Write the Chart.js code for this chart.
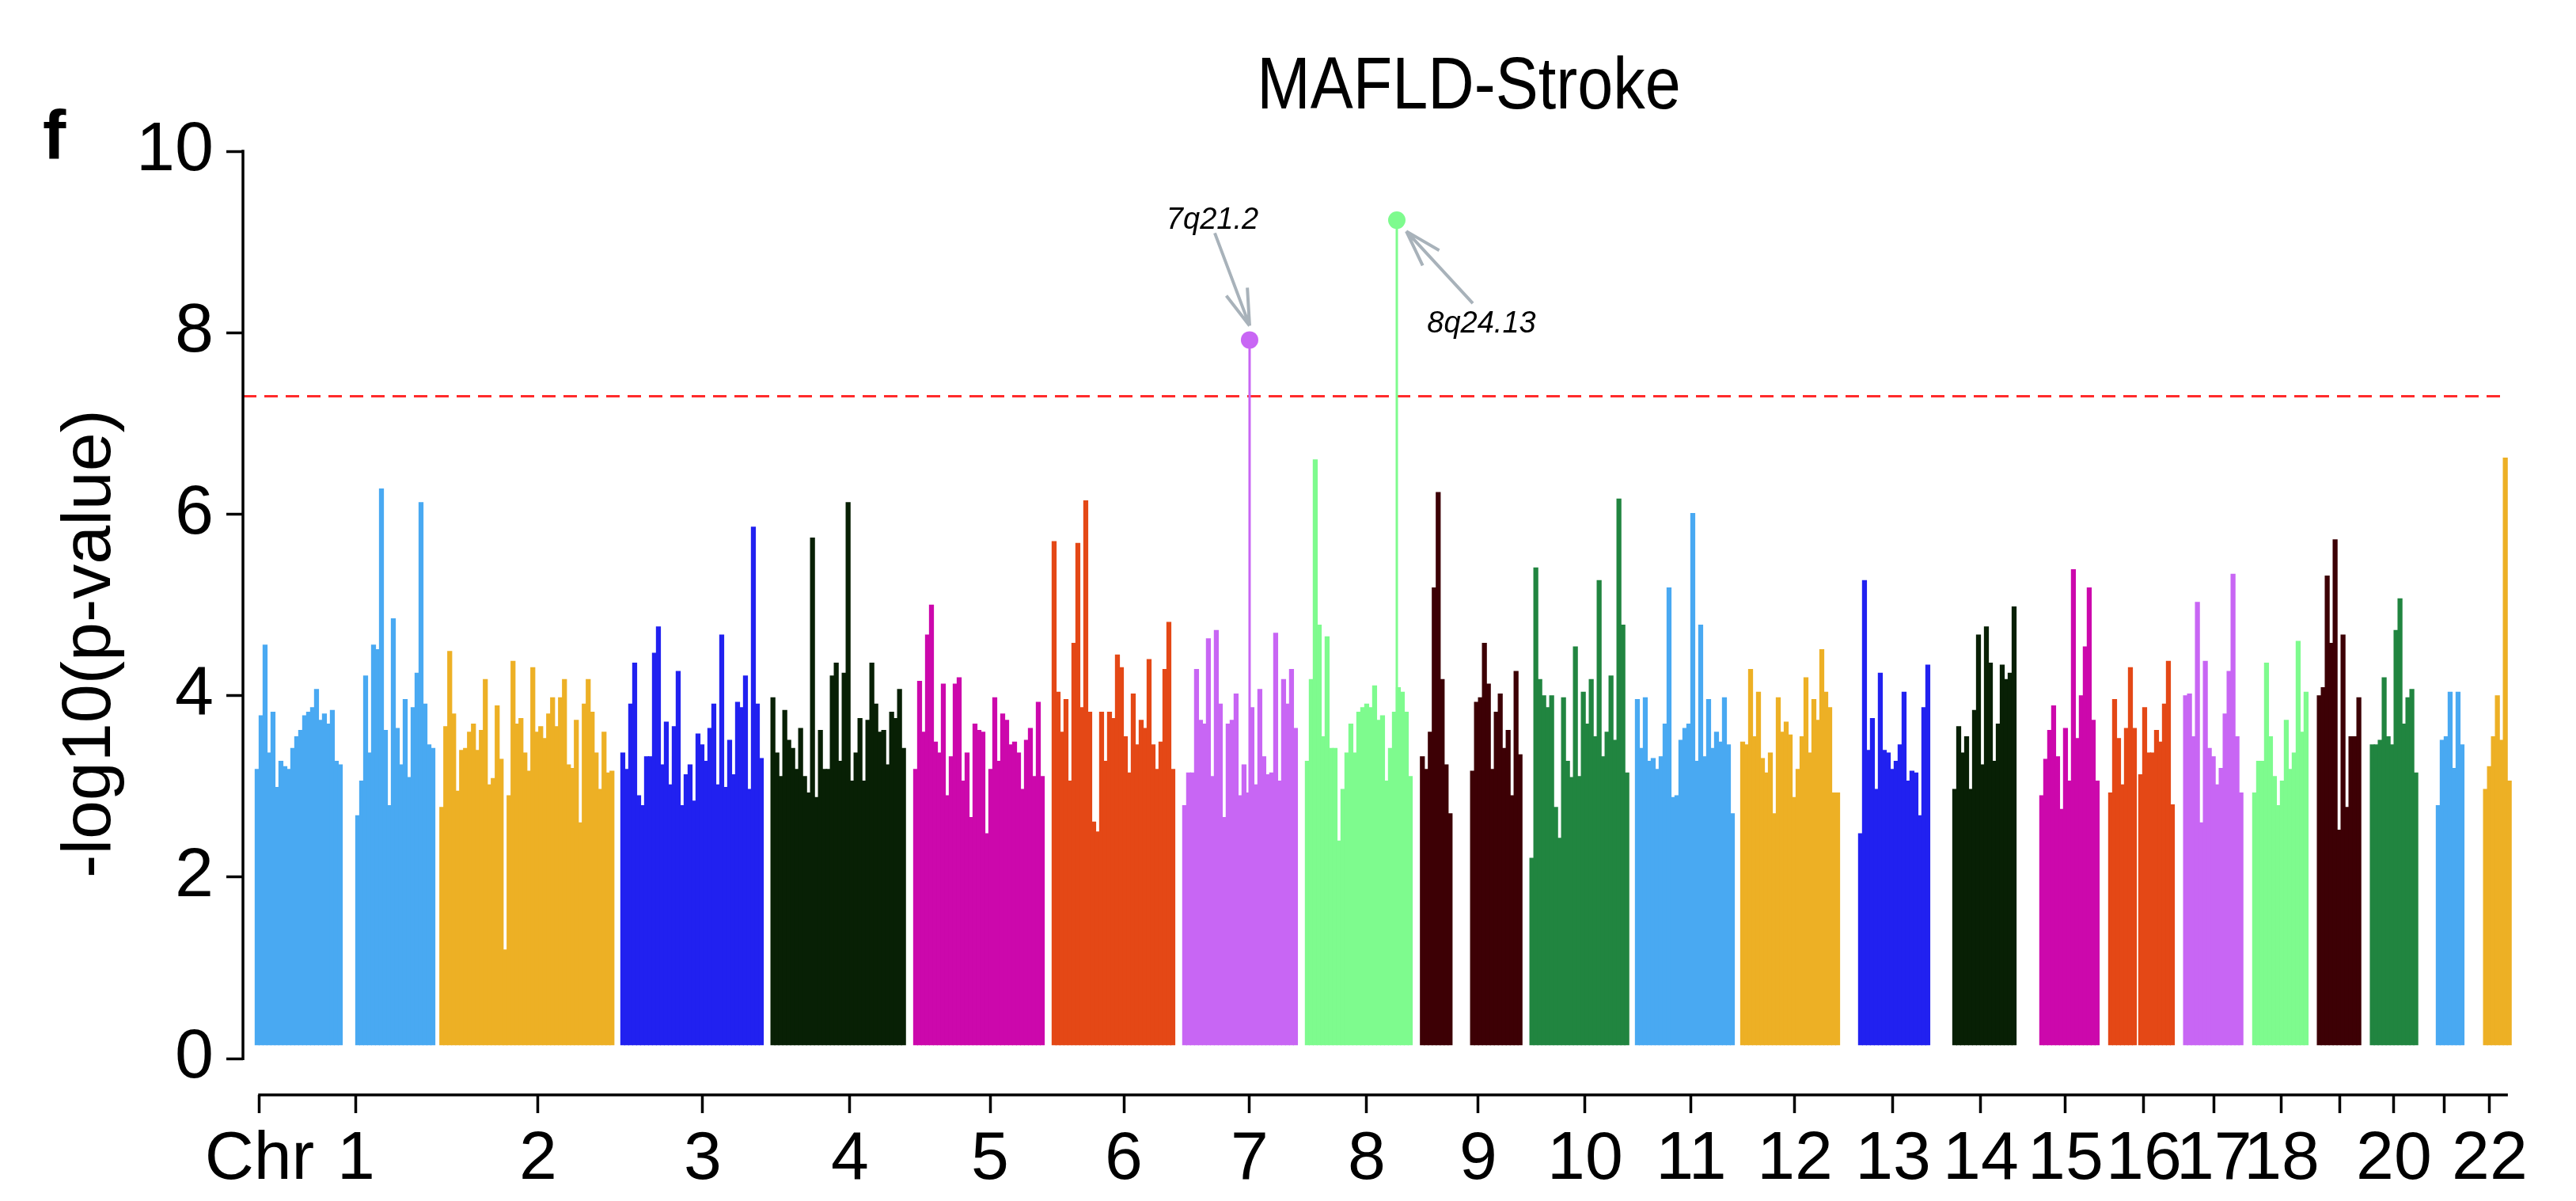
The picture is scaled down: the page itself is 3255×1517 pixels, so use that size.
<!DOCTYPE html>
<html>
<head>
<meta charset="utf-8">
<script src="https://cdn.jsdelivr.net/npm/chart.js@4.4.0/dist/chart.umd.min.js"></script>
<style>
  html, body { margin: 0; padding: 0; background: #fff; }
  #wrap { width: 3255px; height: 1517px; }
</style>
</head>
<body>
<div id="wrap"><canvas id="manhattan" width="3255" height="1517"></canvas></div>
<script>
// -log10(p) tops, one value per ~5.4 Mb window
const chr1a = [3.19, 3.78, 4.56, 3.37, 3.82, 2.99, 3.28, 3.22, 3.19, 3.42, 3.55, 3.62, 3.78, 3.82, 3.87, 4.07, 3.73, 3.80, 3.69, 3.84, 3.28, 3.24];
const chr1b = [2.68, 3.06, 4.22, 3.37, 4.56, 4.51, 6.28, 3.62, 2.79, 4.85, 3.64, 3.24, 3.96, 3.10, 3.87, 4.25, 6.13, 3.91, 3.46, 3.42];
const chr2 = [2.77, 3.66, 4.49, 3.80, 2.95, 3.40, 3.42, 3.60, 3.69, 3.40, 3.62, 4.18, 3.02, 3.09, 3.89, 3.30, 1.20, 2.90, 4.38, 3.69, 3.75, 3.37, 3.17, 4.31, 3.60, 3.66, 3.53, 3.80, 3.98, 3.66, 3.98, 4.18, 3.24, 3.20, 3.73, 2.60, 3.91, 4.18, 3.82, 3.37, 2.97, 3.60, 3.15, 3.17];
const chr3 = [3.37, 3.19, 3.91, 4.36, 2.90, 2.79, 3.33, 3.33, 4.47, 4.76, 3.24, 3.71, 3.02, 3.66, 4.27, 2.79, 3.13, 3.24, 2.84, 3.58, 3.46, 3.28, 3.64, 3.91, 3.02, 4.67, 2.99, 3.51, 3.13, 3.93, 3.87, 4.22, 2.97, 5.86, 3.91, 3.31];
const chr4 = [3.98, 3.37, 3.11, 3.84, 3.51, 3.42, 3.19, 3.64, 3.11, 2.93, 5.74, 2.88, 3.62, 3.19, 3.19, 4.22, 4.36, 3.28, 4.25, 6.13, 3.06, 3.37, 3.75, 3.06, 3.73, 4.36, 3.91, 3.60, 3.62, 3.24, 3.82, 3.75, 4.07, 3.42];
const chr5 = [3.19, 4.16, 3.60, 4.67, 5.00, 3.49, 3.37, 4.13, 2.90, 3.33, 4.13, 4.20, 3.06, 3.37, 2.66, 3.69, 3.62, 3.60, 2.48, 3.19, 3.98, 3.28, 3.80, 3.73, 3.46, 3.49, 3.37, 2.97, 3.51, 3.64, 3.11, 3.93, 3.11];
const chr6 = [5.70, 4.04, 3.60, 3.96, 3.06, 4.58, 5.68, 3.87, 6.15, 3.82, 2.61, 2.50, 3.82, 3.28, 3.82, 3.75, 4.45, 4.31, 3.55, 3.15, 4.02, 3.46, 3.73, 3.64, 4.40, 3.46, 3.19, 3.49, 4.29, 4.81, 3.19];
const chr7 = [2.79, 3.15, 3.15, 4.29, 3.73, 3.69, 4.63, 3.11, 4.72, 3.91, 2.66, 3.69, 3.73, 4.02, 2.90, 3.24, 2.93, 3.87, 3.02, 4.07, 3.33, 3.13, 3.15, 4.69, 3.06, 4.18, 3.91, 4.29, 3.64];
const chr8 = [3.28, 4.18, 6.60, 4.78, 3.55, 4.65, 3.42, 3.42, 2.40, 2.97, 3.37, 3.69, 3.37, 3.82, 3.87, 3.91, 3.87, 4.11, 3.73, 3.78, 3.06, 3.42, 3.82, 4.09, 4.04, 3.82, 3.11];
const chr9a = [3.33, 3.19, 3.60, 5.19, 6.24, 4.18, 3.24, 2.70];
const chr9b = [3.17, 3.93, 3.98, 4.58, 4.13, 3.19, 3.82, 4.02, 3.42, 3.62, 2.90, 4.27, 3.35];
const chr10 = [2.21, 5.41, 4.18, 4.00, 3.87, 4.00, 2.77, 2.43, 3.98, 3.28, 3.10, 4.54, 3.11, 4.04, 3.69, 4.18, 3.55, 5.27, 3.33, 3.60, 4.22, 3.51, 6.17, 4.78, 3.15];
const chr11 = [3.96, 3.42, 3.98, 3.28, 3.31, 3.19, 3.33, 3.69, 5.19, 2.88, 2.90, 3.51, 3.64, 3.69, 6.01, 3.28, 4.78, 3.33, 3.96, 3.42, 3.60, 3.49, 3.98, 3.46, 2.70];
const chr12 = [3.49, 3.46, 4.29, 3.55, 4.04, 3.31, 3.15, 3.37, 2.70, 3.98, 3.60, 3.71, 3.57, 2.88, 3.19, 3.55, 4.20, 3.37, 3.96, 3.73, 4.51, 4.04, 3.87, 2.93, 2.93];
const chr13 = [2.48, 5.27, 3.40, 3.75, 2.97, 4.25, 3.40, 3.37, 3.19, 3.28, 3.46, 4.04, 3.06, 3.17, 3.15, 2.68, 3.87, 4.34];
const chr14 = [2.97, 3.66, 3.37, 3.55, 2.97, 3.84, 4.67, 3.24, 4.76, 4.36, 3.28, 3.69, 4.34, 4.18, 4.25, 4.98];
const chr15 = [2.90, 3.30, 3.62, 3.89, 3.33, 2.75, 3.64, 3.06, 5.39, 3.53, 4.00, 4.54, 5.19, 3.73, 3.06];
const chr16a = [2.93, 3.96, 3.53, 3.02, 3.64, 4.31, 3.64];
const chr16b = [3.13, 3.87, 3.37, 3.37, 3.62, 3.49, 3.91, 4.38, 2.80];
const chr17 = [4.00, 4.02, 3.55, 5.03, 2.60, 4.38, 3.42, 3.33, 3.02, 3.20, 3.80, 4.27, 5.34, 3.55, 2.93];
const chr18 = [2.93, 3.28, 3.28, 4.36, 3.55, 3.11, 2.79, 3.06, 3.73, 3.19, 3.37, 4.60, 3.60, 4.04];
const chr19 = [4.00, 4.09, 5.32, 4.58, 5.72, 2.52, 4.67, 2.77, 3.55, 3.55, 3.98];
const chr20 = [3.46, 3.46, 3.51, 4.20, 3.55, 3.46, 4.72, 5.07, 3.69, 3.98, 4.07, 3.15];
const chr21 = [2.79, 3.51, 3.55, 4.04, 3.20, 4.04, 3.46];
const chr22 = [2.97, 3.22, 3.55, 4.00, 3.51, 6.62, 3.06];

// [chromosome, first window (cumulative Mb), values]
const blocks = [
    [1, 2.9, chr1a], [1, 141.0, chr1b], [2, 256.5, chr2], [3, 505.1, chr3],
    [4, 711.3, chr4], [5, 907.3, chr5], [6, 1097.5, chr6], [7, 1276.8, chr7],
    [8, 1445.3, chr8], [9, 1603.3, chr9a], [9, 1672.2, chr9b], [10, 1753.7, chr10],
    [11, 1898.6, chr11], [12, 2043.2, chr12], [13, 2205.1, chr13], [14, 2334.5, chr14],
    [15, 2454.0, chr15], [16, 2548.6, chr16a], [16, 2589.9, chr16b], [17, 2651.5, chr17],
    [18, 2746.4, chr18], [19, 2835.2, chr19], [20, 2908.0, chr20], [21, 2998.6, chr21],
    [22, 3063.5, chr22]
];
const STEP = 5.435;
const FLOOR = 0.15;

const tickPos = [6.2, 138.8, 388.8, 614.9, 817.1, 1009.5, 1193.2, 1366.0, 1526.8, 1680.1, 1826.8, 1972.5,
    2114.9, 2249.7, 2370.3, 2486.6, 2594.2, 2690.9, 2783.4, 2863.8, 2937.7, 3007.3, 3069.2];
const tickLabels = ["Chr", "1", "2", "3", "4", "5", "6", "7", "8", "9", "10", "11",
    "12", "13", "14", "15", "16", "17", "18", "19", "20", "21", "22"];
const droppedLabels = ["19", "21"]; // R left these out, they would overlap
const axisEnd = 3094.2;
const yTicks = [0, 2, 4, 6, 8, 10];
const threshold = 7.3;

const leadChr = [7, 8];
const leadPos = [1366.0, 1568.2];
const leadVal = [7.92, 9.24];
const leadLabels = ["7q21.2", "8q24.13"];

const chromColors = ["#49a9f2", "#edb025", "#2121f0", "#082005", "#cc08ac",
    "#e44816", "#c866f4", "#7efb8e", "#3d0005", "#218540"];
const FONT = '"Liberation Sans", Arial, Helvetica, sans-serif';

const colorOf = chr => chromColors[(chr - 1) % chromColors.length];

const barSets = blocks.map(([chr, start, vals]) => ({
    type: "bar",
    data: vals.map((v, k) => ({ x: start + k * STEP, y: v })),
    backgroundColor: colorOf(chr),
    base: FLOOR,
    barThickness: 5.6,
    grouped: false,
    borderWidth: 0,
    order: 3,
}));

const leadSets = leadPos.map((x, i) => ({
    type: "scatter",
    data: [{ x: x, y: FLOOR }, { x: x, y: leadVal[i] }],
    showLine: true,
    borderColor: colorOf(leadChr[i]),
    borderWidth: 3,
    pointRadius: [0, 11],
    pointBackgroundColor: colorOf(leadChr[i]),
    pointBorderWidth: 0,
    order: 1,
}));

const thresholdSet = {
    type: "line",
    data: [{ x: -16.6, y: threshold }, { x: axisEnd, y: threshold }],
    borderColor: "#ff2b2b",
    borderWidth: 3,
    borderDash: [17, 10],
    pointRadius: 0,
    order: 2,
};

// where the gene-band notes sit relative to their lead point (px)
const notes = [
    { lx: -47, ly: -140, tail: [-44, -135], tip: [0, -18] },
    { lx: 107, ly: 142, tail: [96, 105], tip: [12, 14] },
];

function arrow(ctx, x0, y0, x1, y1) {
    const a = Math.atan2(y0 - y1, x0 - x1);
    ctx.beginPath();
    ctx.moveTo(x0, y0);
    ctx.lineTo(x1, y1);
    for (const d of [-0.3, 0.3]) {
        ctx.moveTo(x1, y1);
        ctx.lineTo(x1 + 48 * Math.cos(a + d), y1 + 48 * Math.sin(a + d));
    }
    ctx.stroke();
}

const decor = {
    id: "decor",
    afterDraw(chart) {
        const { ctx, scales: { x, y } } = chart;
        ctx.save();

        // detached R-style axis lines
        ctx.strokeStyle = "#000";
        ctx.lineWidth = 3.5;
        ctx.beginPath();
        ctx.moveTo(y.right, y.getPixelForValue(0) + 1.75);
        ctx.lineTo(y.right, y.getPixelForValue(10) - 1.75);
        ctx.moveTo(x.getPixelForValue(tickPos[0]) - 1.75, x.top);
        ctx.lineTo(x.getPixelForValue(axisEnd), x.top);
        ctx.stroke();

        ctx.fillStyle = "#000";

        // title
        ctx.save();
        ctx.font = "92px " + FONT;
        ctx.textAlign = "center";
        ctx.textBaseline = "alphabetic";
        ctx.translate(1856, 137);
        ctx.scale(0.88, 1);
        ctx.fillText("MAFLD-Stroke", 0, 0);
        ctx.restore();

        // panel letter
        ctx.font = "bold 88px " + FONT;
        ctx.textAlign = "left";
        ctx.fillText("f", 54, 200);

        // y axis title
        ctx.save();
        ctx.font = "88px " + FONT;
        ctx.textAlign = "center";
        ctx.textBaseline = "middle";
        ctx.translate(115, 813);
        ctx.rotate(-Math.PI / 2);
        ctx.fillText("-log10(p-value)", 0, 0);
        ctx.restore();

        // lead SNP notes with arrows
        ctx.font = "italic 38px " + FONT;
        ctx.textAlign = "center";
        ctx.textBaseline = "alphabetic";
        ctx.strokeStyle = "#a8b2ba";
        ctx.lineWidth = 4;
        leadPos.forEach((pos, i) => {
            const px = x.getPixelForValue(pos);
            const py = y.getPixelForValue(leadVal[i]);
            const n = notes[i];
            ctx.fillText(leadLabels[i], px + n.lx, py + n.ly);
            arrow(ctx, px + n.tail[0], py + n.tail[1], px + n.tip[0], py + n.tip[1]);
        });

        ctx.restore();
    }
};

const ctx = document.getElementById("manhattan").getContext("2d");
new Chart(ctx, {
    type: "bar",
    data: { datasets: [...barSets, thresholdSet, ...leadSets] },
    options: {
        responsive: false,
        animation: false,
        devicePixelRatio: 1,
        events: [],
        layout: { padding: { top: 191, left: 0, right: 55, bottom: 0 } },
        plugins: {
            legend: { display: false },
            tooltip: { enabled: false },
            title: { display: false },
        },
        scales: {
            x: {
                type: "linear",
                min: -16.6,
                max: 3128,
                offset: false,
                afterBuildTicks: s => { s.ticks = tickPos.map(v => ({ value: v })); },
                afterFit: s => { s.height = 134; },
                ticks: {
                    autoSkip: false,
                    maxRotation: 0,
                    minRotation: 0,
                    padding: 8,
                    color: "#000",
                    font: { family: FONT, size: 86 },
                    callback: (v, i) => droppedLabels.includes(tickLabels[i]) ? "" : tickLabels[i],
                },
                grid: {
                    offset: false,
                    drawOnChartArea: false,
                    drawTicks: true,
                    tickLength: 23,
                    tickWidth: 3.5,
                    tickColor: "#000",
                },
                border: { display: false },
            },
            y: {
                type: "linear",
                min: -0.4,
                max: 10,
                afterBuildTicks: s => { s.ticks = yTicks.map(v => ({ value: v })); },
                afterFit: s => { s.width = 307; },
                ticks: {
                    padding: 16,
                    color: "#000",
                    font: { family: FONT, size: 88 },
                },
                grid: {
                    drawOnChartArea: false,
                    drawTicks: true,
                    tickLength: 21,
                    tickWidth: 3.5,
                    tickColor: "#000",
                },
                border: { display: false },
            },
        },
    },
    plugins: [decor],
});
</script>
</body>
</html>
